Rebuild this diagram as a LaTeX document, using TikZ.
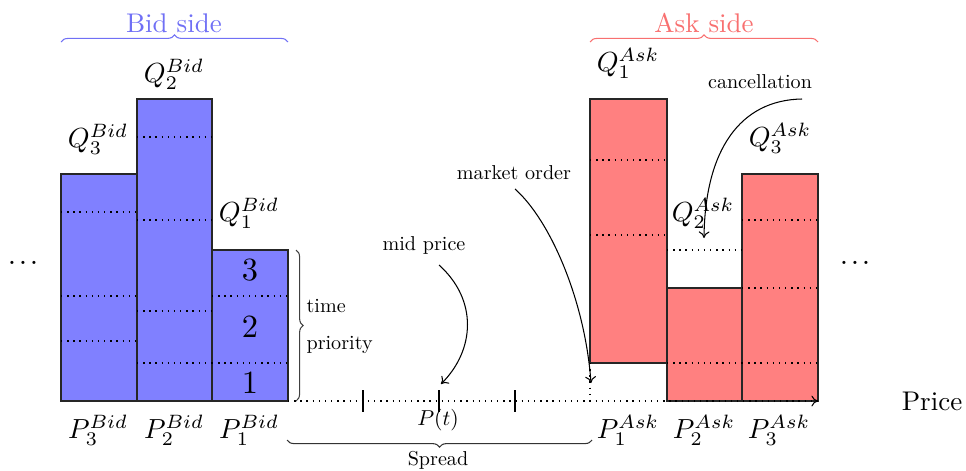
\documentclass[tikz,border=0pt]{standalone}
\usepackage{graphicx}
\usetikzlibrary{decorations.pathreplacing,arrows.meta}
\definecolor{bidc}{RGB}{128,128,255}
\definecolor{askc}{RGB}{255,128,128}
\definecolor{bidtxt}{RGB}{112,112,245}
\definecolor{asktxt}{RGB}{248,112,112}
\newcommand\SmT[1]{\scalebox{0.67}{#1}}
\newcommand\BgT[1]{\scalebox{0.9}{#1}}
\newcommand\MtT[1]{\scalebox{0.92}{$#1$}}
\newcommand\DotsT{\scalebox{1.0}{.\hspace{0.9pt}.\hspace{0.9pt}.}}
\begin{document}
\begin{tikzpicture}[x=0.33333pt,y=-0.33333pt,
  bidbar/.style={fill=bidc,draw=black!85,line width=0.4pt},
  askbar/.style={fill=askc,draw=black!85,line width=0.4pt},
  lvl/.style={dash pattern=on 0.45pt off 1.6pt,line width=0.4pt},
  txt/.style={inner sep=0pt},
  arr/.style={-{To[length=2.2pt,width=3.6pt]},line width=0.35pt},
  brc/.style={decorate,decoration={brace,amplitude=2.4pt},line width=0.35pt},
  tick/.style={line width=0.55pt}
]
\useasboundingbox (0,0) rectangle (966,470);

% bid bars
\path[bidbar] (61,174) rectangle (137,401);
\path[bidbar] (137,99) rectangle (212,401);
\path[bidbar] (212,250) rectangle (288,401);
\draw[lvl] (61,212) -- (137,212) (61,296) -- (137,296) (61,341) -- (137,341);
\draw[lvl] (137,137) -- (212,137) (137,220) -- (212,220) (137,311) -- (212,311) (137,363) -- (212,363);
\draw[lvl] (212,296) -- (288,296) (212,363) -- (288,363);

% ask bars
\path[askbar] (590,99) rectangle (667,363);
\path[askbar] (667,288) rectangle (742,401);
\path[askbar] (742,174) rectangle (818,401);
\draw[lvl] (590,160) -- (667,160) (590,235) -- (667,235);
\draw[lvl] (667,363) -- (742,363);
\draw[lvl] (742,220) -- (818,220) (742,288) -- (818,288) (742,363) -- (818,363);
\draw[lvl] (667,250) -- (742,250) (590,363) -- (590,401);

% axis
\coordinate (ax0) at (288,401);
\coordinate (ax1) at (818,401);
\draw[lvl,arr] (ax0) -- (ax1);

% ticks
\draw[tick] (363,390) -- (363,412) (439,390) -- (439,412) (515,390) -- (515,412);

% queue numbers
\node[txt] (n3) at (250,270) {\scalebox{1.08}{3}};
\node[txt] (n2) at (250,327) {\scalebox{1.08}{2}};
\node[txt] (n1) at (250,383) {\scalebox{1.08}{1}};

% Q labels
\node[txt] (q3b) at (98,139) {\MtT{Q_3^{Bid}}};
\node[txt] (q2b) at (174,74) {\MtT{Q_2^{Bid}}};
\node[txt] (q1b) at (249,213) {\MtT{Q_1^{Bid}}};
\node[txt] (q1a) at (628,63) {\MtT{Q_1^{Ask}}};
\node[txt] (q2a) at (703,213) {\MtT{Q_2^{Ask}}};
\node[txt] (q3a) at (780,138) {\MtT{Q_3^{Ask}}};

% P labels
\node[txt] (p3b) at (98,430) {\MtT{P_3^{Bid}}};
\node[txt] (p2b) at (174,430) {\MtT{P_2^{Bid}}};
\node[txt] (p1b) at (249,430) {\MtT{P_1^{Bid}}};
\node[txt] (p1a) at (628,430) {\MtT{P_1^{Ask}}};
\node[txt] (p2a) at (704,430) {\MtT{P_2^{Ask}}};
\node[txt] (p3a) at (779,430) {\MtT{P_3^{Ask}}};
\node[txt] (pt) at (438,420) {\scalebox{0.72}{$P(t)$}};

% dots and price
\node[txt,anchor=base] (ldots) at (23,264) {\DotsT};
\node[txt,anchor=base] (rdots) at (855,264) {\DotsT};
\node[txt,anchor=base] (price) at (932,410) {\BgT{Price}};

% sides
\node[txt,text=bidtxt,anchor=base] (bidside) at (174,32) {\BgT{Bid side}};
\node[txt,text=asktxt,anchor=base] (askside) at (704,32) {\BgT{Ask side}};
\draw[brc,bidtxt] (61,42) -- (288,42);
\draw[brc,asktxt] (590,42) -- (818,42);

% time priority
\draw[brc,black!75] (296,250) -- (296,401);
\node[txt,anchor=base west] (time) at (306,312) {\SmT{time}};
\node[txt,anchor=base west] (prio) at (306,349) {\SmT{priority}};

% spread
\draw[brc,black!80] (592,440) -- (287,440);
\node[txt,anchor=base] (spread) at (438,465) {\SmT{Spread}};

% annotations
\node[txt,anchor=base] (mid) at (424,250) {\SmT{mid price}};
\node[txt,anchor=base] (mkt) at (514,179) {\SmT{market order}};
\node[txt,anchor=base] (canc) at (760,88) {\SmT{cancellation}};
\coordinate (mids) at (439,265);
\coordinate (midt) at (441,384);
\coordinate (mkts) at (515,189);
\coordinate (mktt) at (591,383);
\coordinate (cancs) at (802,99);
\coordinate (canct) at (704,238);
\draw[arr] (mids) .. controls (478,300) and (475,350) .. (midt);
\draw[arr] (mkts) .. controls (550,220) and (585,300) .. (mktt);
\draw[arr] (cancs) .. controls (740,100) and (705,150) .. (canct);
\end{tikzpicture}
\end{document}
